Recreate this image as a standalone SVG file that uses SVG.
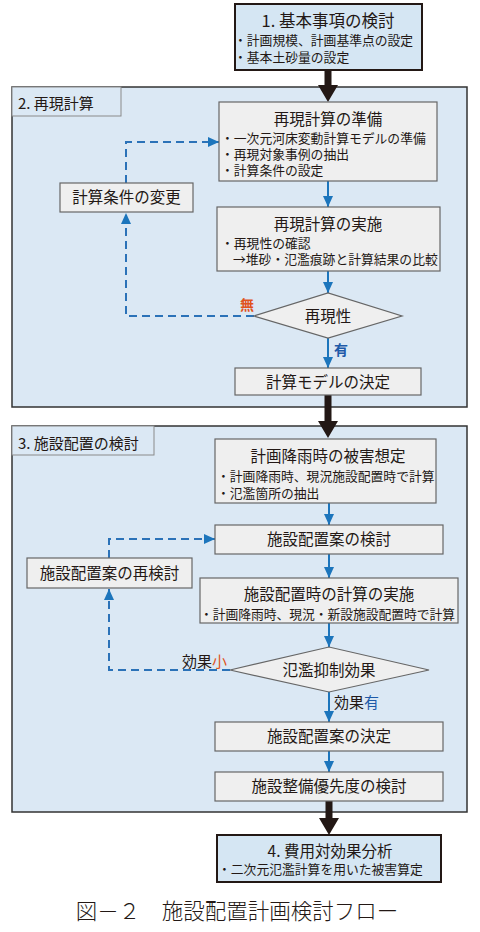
<svg xmlns="http://www.w3.org/2000/svg" width="480" height="932" viewBox="0 0 480 932">
<style>
text{font-family:"Noto Sans CJK JP","Noto Sans",sans-serif;fill:#231815}
.t{font-size:15.5px;text-anchor:middle}
.tb{font-size:16.5px;text-anchor:middle}
.s{font-size:12.8px}
.sec{fill:#dbe8f4;stroke:#333;stroke-width:1.5}
.lab{fill:#dbe8f4;stroke:#8a8a8a;stroke-width:1}
.box{fill:#efefef;stroke:#666;stroke-width:1.2}
.main{fill:#d5e6f3;stroke:#231815;stroke-width:2}
.flow{fill:none;stroke:#1c75bc;stroke-width:2;marker-end:url(#ah)}
.dash{fill:none;stroke:#2b72b8;stroke-width:2;stroke-dasharray:8 5;marker-end:url(#ah)}
.big{fill:#231815}
</style>
<defs>
<marker id="ah" markerUnits="userSpaceOnUse" markerWidth="12" markerHeight="12" viewBox="0 0 12 12" refX="11" refY="6" orient="auto">
<path d="M0,1 L11,6 L0,11 Z" fill="#1c75bc"/>
</marker>
</defs>

<g id="sec2">
<rect class="sec" x="12" y="87" width="455" height="320"/>
<rect class="lab" x="12" y="87" width="109" height="29"/>
<text x="18" y="109" style="font-size:15px">2. 再現計算</text>
</g>
<g id="sec3">
<rect class="sec" x="12" y="426" width="455" height="386"/>
<rect class="lab" x="12" y="426" width="142" height="29"/>
<text x="18" y="449" style="font-size:15px">3. 施設配置の検討</text>
</g>

<g id="connectors">
<path class="big" d="M324.5,70 H331.5 V85 H338 L328,102 L318,85 H324.5 Z"/>
<path class="big" d="M324.5,395 H331.5 V421 H338 L328,438 L318,421 H324.5 Z"/>
<path class="big" d="M325.5,801 H332.5 V818 H339 L329,835 L319,818 H325.5 Z"/>
<path class="flow" d="M328,181 V207"/>
<path class="flow" d="M328,271 V293"/>
<path class="flow" d="M328,338 V368"/>
<path class="flow" d="M329,503 V525"/>
<path class="flow" d="M329,554 V578"/>
<path class="flow" d="M329,623 V647"/>
<path class="flow" d="M329,692 V722"/>
<path class="flow" d="M329,751 V772"/>
<path class="dash" d="M254,316 H126 V213"/>
<path class="dash" d="M126,183 V142 H219"/>
<path class="dash" d="M230,670 H109 V589"/>
<path class="dash" d="M109,558 V539 H215"/>
</g>

<g id="n1">
<rect class="main" x="235" y="4" width="187" height="66"/>
<text class="tb" x="328" y="27">1. 基本事項の検討</text>
<text class="s" x="234" y="45">・計画規模、計画基準点の設定</text>
<text class="s" x="234" y="62">・基本土砂量の設定</text>
</g>

<g id="n_prep">
<rect class="box" x="219" y="102" width="218" height="79"/>
<text class="t" x="328" y="125">再現計算の準備</text>
<text class="s" x="221" y="143">・一次元河床変動計算モデルの準備</text>
<text class="s" x="221" y="159">・再現対象事例の抽出</text>
<text class="s" x="221" y="175">・計算条件の設定</text>
</g>

<g id="n_change">
<rect class="box" x="60" y="183" width="133" height="29"/>
<text class="t" x="126.5" y="203">計算条件の変更</text>
</g>

<g id="n_exec">
<rect class="box" x="217" y="207" width="223" height="64"/>
<text class="t" x="328" y="230">再現計算の実施</text>
<text class="s" x="221" y="248">・再現性の確認</text>
<text class="s" x="233" y="264">→堆砂・氾濫痕跡と計算結果の比較</text>
</g>

<g id="n_repro">
<polygon class="box" points="254,316 328,293 402,316 328,338"/>
<text class="t" x="328" y="322">再現性</text>
<text x="240" y="310" style="font-size:14px;fill:#e0541c;font-weight:bold">無</text>
<text x="334" y="355" style="font-size:14px;fill:#1e5aa8;font-weight:bold">有</text>
</g>

<g id="n_model">
<rect class="box" x="235" y="368" width="186" height="27"/>
<text class="t" x="328" y="388">計算モデルの決定</text>
</g>

<g id="n_damage">
<rect class="box" x="215" y="439" width="221" height="64"/>
<text class="t" x="328" y="462">計画降雨時の被害想定</text>
<text class="s" x="217" y="481">・計画降雨時、現況施設配置時で計算</text>
<text class="s" x="217" y="498">・氾濫箇所の抽出</text>
</g>

<g id="n_plan">
<rect class="box" x="215" y="525" width="228" height="29"/>
<text class="t" x="329" y="545">施設配置案の検討</text>
</g>

<g id="n_replan">
<rect class="box" x="27" y="558" width="165" height="30"/>
<text class="t" x="109.5" y="579">施設配置案の再検討</text>
</g>

<g id="n_calc">
<rect class="box" x="200" y="578" width="258" height="45"/>
<text class="t" x="329" y="600">施設配置時の計算の実施</text>
<text class="s" x="200" y="619" textLength="255">・計画降雨時、現況・新設施設配置時で計算</text>
</g>

<g id="n_effect">
<polygon class="box" points="230,670 329,647 429,670 329,692"/>
<text class="t" x="329" y="676">氾濫抑制効果</text>
<text x="182" y="667" style="font-size:15px">効果<tspan style="fill:#e0541c">小</tspan></text>
<text x="334" y="708" style="font-size:15px">効果<tspan style="fill:#1e5aa8">有</tspan></text>
</g>

<g id="n_decide">
<rect class="box" x="215" y="722" width="228" height="29"/>
<text class="t" x="329" y="742">施設配置案の決定</text>
</g>

<g id="n_priority">
<rect class="box" x="215" y="772" width="228" height="29"/>
<text class="t" x="329" y="792">施設整備優先度の検討</text>
</g>

<g id="n4">
<rect class="main" x="217" y="835" width="224" height="47"/>
<text class="t" x="330" y="857">4. 費用対効果分析</text>
<text class="s" x="218" y="874">・二次元氾濫計算を用いた被害算定</text>
</g>

<text x="237" y="919" style="font-size:21.5px;text-anchor:middle;font-weight:300">図－２　施設配置計画検討フロー</text>
</svg>
